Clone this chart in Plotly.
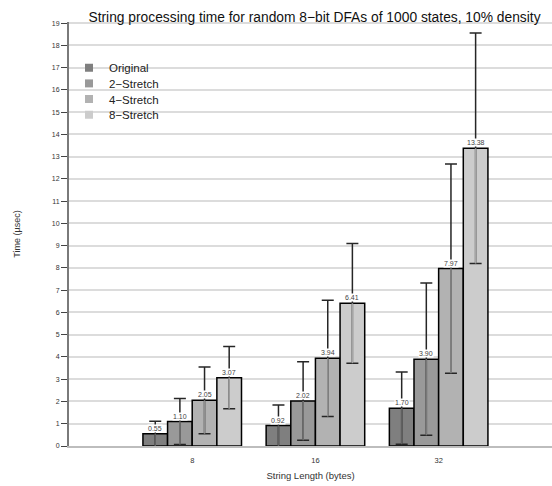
import plotly.graph_objects as go

# ---------------- data ----------------
categories = ["8", "16", "32"]
series_names = ["Original", "2\u2212Stretch", "4\u2212Stretch", "8\u2212Stretch"]
original = [0.55, 0.92, 1.70]
stretch2 = [1.10, 2.02, 3.90]
stretch4 = [2.05, 3.94, 7.97]
stretch8 = [3.07, 6.41, 13.38]
err_original = [0.56, 0.92, 1.62]
err_stretch2 = [1.03, 1.76, 3.42]
err_stretch4 = [1.50, 2.61, 4.70]
err_stretch8 = [1.40, 2.69, 5.18]
y_tick_values = list(range(0, 20))

values = [original, stretch2, stretch4, stretch8]
errors = [err_original, err_stretch2, err_stretch4, err_stretch8]

# ---------------- layout constants ----------------
W, H = 552, 486
ML, MR, MT, MB = 69, 0, 22, 40
XR = [-1, 2.92]
YR = [0, 19.05]
BARGAP = 0.2
FONT = "Liberation Sans, Arial, Helvetica, sans-serif"

fills = ["#7f7f7f", "#999999", "#b2b2b2", "#cccccc"]
inner = ["#606060", "#787878", "#8f8f8f", "#a6a6a6"]
err_dark = "#262626"

plot_w = W - ML - MR
plot_h = H - MT - MB
bar_px = plot_w / (XR[1] - XR[0]) * (1 - BARGAP) / len(series_names)

fig = go.Figure()

# main bars with full (dark) error bars
for i, name in enumerate(series_names):
    fig.add_trace(go.Bar(
        x=categories, y=values[i], name=name, offsetgroup=str(i),
        marker=dict(color=fills[i], line=dict(color="black", width=1.5)),
        error_y=dict(type="data", symmetric=True, array=errors[i],
                     color=err_dark, thickness=1.5, width=6),
        showlegend=False, hoverinfo="skip",
    ))

# overlay: lighter lower part of the error bar inside the bar
for i, name in enumerate(series_names):
    fig.add_trace(go.Bar(
        x=categories, y=values[i], name=name, offsetgroup=str(i),
        marker=dict(color="rgba(0,0,0,0)", line=dict(width=0)),
        error_y=dict(type="data", symmetric=False, array=[0] * len(categories),
                     arrayminus=errors[i], color=inner[i], thickness=1.5, width=0),
        showlegend=False, hoverinfo="skip",
    ))

# legend entries (one legend per entry for tight spacing)
legend_centers_px = [67.7, 83.4, 99.1, 114.8]
legend_left_px = 69
legend_ids = ["legend", "legend2", "legend3", "legend4"]
for i, name in enumerate(series_names):
    fig.add_trace(go.Scatter(
        x=[None], y=[None], mode="markers", name=name,
        marker=dict(symbol="square", size=8, color=fills[i], line=dict(width=0)),
        legend=legend_ids[i], showlegend=True,
    ))

legend_layouts = {}
for i, lid in enumerate(legend_ids):
    legend_layouts[lid] = dict(
        x=(legend_left_px - ML) / plot_w, xanchor="left",
        y=(H - MB - legend_centers_px[i]) / plot_h, yanchor="middle",
        bgcolor="rgba(0,0,0,0)", borderwidth=0,
        font=dict(family=FONT, size=11.5, color="#222"),
    )

# value labels above bars (category axis: use category index)
annotations = []
for i in range(len(series_names)):
    for j, cat in enumerate(categories):
        annotations.append(dict(
            x=j, y=values[i][j], xref="x", yref="y",
            xshift=(i - (len(series_names) - 1) / 2) * bar_px, yshift=1,
            text=f"{values[i][j]:.2f}", showarrow=False, yanchor="bottom",
            font=dict(family=FONT, size=7, color="#444"),
            bgcolor="white", borderpad=0,
        ))

fig.update_layout(
    width=W, height=H,
    margin=dict(l=ML, r=MR, t=MT, b=MB),
    paper_bgcolor="white", plot_bgcolor="white",
    barmode="group", bargap=BARGAP, bargroupgap=0,
    font=dict(family=FONT, color="#222"),
    title=dict(text="String processing time for random 8\u2212bit DFAs of 1000 states, 10% density",
               x=(ML + plot_w / 2 + 4) / W, xref="container", xanchor="center",
               y=1 - 17 / H, yref="container", yanchor="middle",
               font=dict(family=FONT, size=13.8, color="#111")),
    xaxis=dict(range=XR, type="category", showgrid=False, zeroline=False,
               showline=True, linecolor="#bdbdbd", linewidth=2,
               ticks="", ticklabelstandoff=6,
               tickfont=dict(family=FONT, size=7.5, color="#333"),
               title=dict(text="String Length (bytes)", standoff=8,
                          font=dict(family=FONT, size=9.5, color="#333"))),
    yaxis=dict(range=YR, tickvals=y_tick_values, showgrid=True,
               gridcolor="#dcdcdc", gridwidth=1.5, zeroline=False,
               showline=True, linecolor="#7a7a7a", linewidth=2,
               ticks="outside", ticklen=6, tickcolor="#444", tickwidth=1,
               tickfont=dict(family=FONT, size=7, color="#333"),
               title=dict(text="Time (\u00b5sec)", standoff=30,
                          font=dict(family=FONT, size=9, color="#333"))),
    annotations=annotations,
    **legend_layouts,
)

fig.write_html("out.html")
